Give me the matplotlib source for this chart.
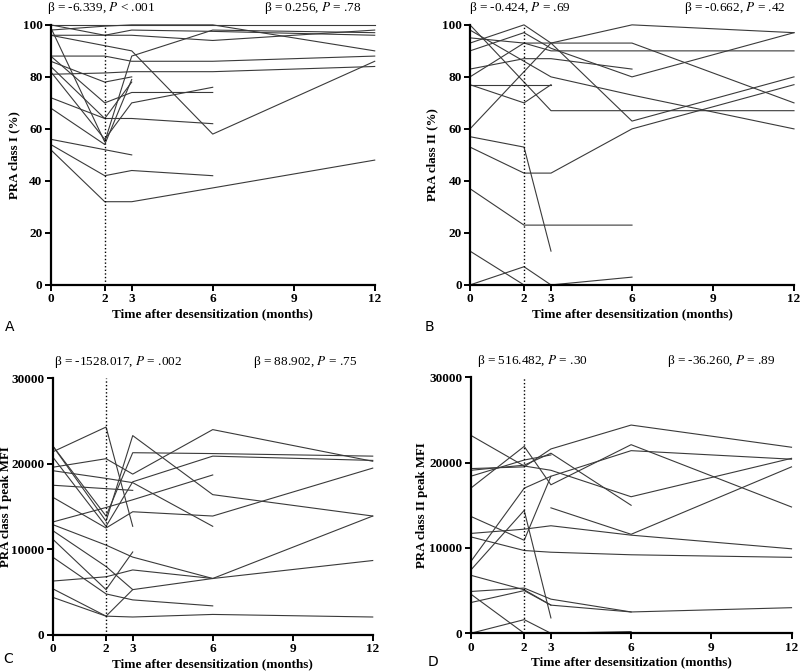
import numpy as np
import matplotlib
matplotlib.use('Agg')
import matplotlib.pyplot as plt

plt.rcParams['font.family'] = ['Liberation Serif', 'DejaVu Serif']
plt.rcParams['mathtext.fontset'] = 'stix'

nan = np.nan
months = [0, 2, 3, 6, 12]
x_ticks = [0, 2, 3, 6, 9, 12]

# panel A: PRA class I (%)
pra_class1 = [
    [100, 100, 100, 100, 100],
    [98, 99.5, 100, 100, 90],
    [100, 96, 98, 97.5, 96],
    [96, 96, 96, 94, 98],
    [96, 92, 90, 58, 86],
    [99, 55, 88, 98, 97],
    [88, 88, 86, 86, 88],
    [81, 81.5, 82, 82, 84],
    [86, 78, 80, nan, nan],
    [88, 70, 74, 74, nan],
    [84, 64, 78, nan, nan],
    [82, 56, 70, 76, nan],
    [72, 64, 64, 62, nan],
    [68, 54, 79, nan, nan],
    [56, 52, 50, nan, nan],
    [54, 42, 44, 42, nan],
    [52, 32, 32, 37.3, 48],
]

# panel B: PRA class II (%)
pra_class2 = [
    [100, nan, 67, 67, 67],
    [98, nan, 80, 73, 60],
    [60, nan, 93, 100, 97],
    [93, 100, 93, 93, 70],
    [90, 97, 91, 80, 97],
    [95, 93, 90, 90, 90],
    [80, 93, 93, 63, 80],
    [83, 87, 87, 83, nan],
    [77, 77, 77, nan, nan],
    [77, 70, 77, nan, nan],
    [57, 53, 13, nan, nan],
    [53, 43, 43, 60, 77],
    [37, 23, nan, 23, nan],
    [13, 0, nan, nan, nan],
    [0, 7, 0, 3, nan],
]

# panel C: PRA class I peak MFI
mfi_class1 = [
    [21400, 24300, 12700, nan, nan],
    [22100, 13300, 23300, 16400, 13900],
    [19600, 20600, 18800, 24000, 20300],
    [22100, 13900, 21300, 21200, 20900],
    [20800, 12700, 17900, 20900, 20400],
    [19200, 18300, 17800, 12700, nan],
    [17500, 17100, 16900, nan, nan],
    [13200, 14900, 15800, 18700, nan],
    [16100, 12500, 14400, 13900, 19500],
    [12900, 10500, 9100, 6600, 13900],
    [12200, 8000, 5300, 6600, 8700],
    [6300, 6800, 7600, 6600, nan],
    [11200, 5300, 9700, nan, nan],
    [9100, 4800, 4100, 3400, nan],
    [5400, 2200, 5300, nan, nan],
    [4400, 2200, 2100, 2400, 2100],
]

# panel D: PRA class II peak MFI
mfi_class2 = [
    [23200, 19600, 19100, 16000, 20500],
    [19300, 19500, 21600, 24400, 21800],
    [19100, 19700, 21100, 15000, nan],
    [18400, 20300, 20900, nan, nan],
    [17000, 21900, 17400, 22100, 14800],
    [13700, 10900, 18400, nan, nan],
    [8400, 17000, 18400, 21400, 20400],
    [7400, 14400, 1800, nan, nan],
    [11700, 12200, 12600, 11500, 9900],
    [11300, 9700, 9500, 9200, 8900],
    [6800, 5100, 3300, 2500, 3000],
    [4900, 5300, 4000, 2500, nan],
    [3600, 5000, 3300, nan, nan],
    [4600, 0, nan, nan, nan],
    [0, 1600, 0, 200, nan],
    [nan, nan, 14700, 11600, 19500],
]

panels = [
    dict(data=pra_class1, ylabel='PRA class I (%)', ymax=100, ystep=20,
         letter='A', rect=[0.0634, 0.576, 0.405, 0.387],
         left=('β = -6.339, ', '< .001'), right=('β = 0.256, ', '= .78'),
         pos_l=-0.01, pos_r=0.96, ylab_x=-0.095, let_xy=(0.006, 0.503)),
    dict(data=pra_class2, ylabel='PRA class II (%)', ymax=100, ystep=20,
         letter='B', rect=[0.5875, 0.576, 0.405, 0.387],
         left=('β = -0.424, ', '= .69'), right=('β = -0.662, ', '= .42'),
         pos_l=-0.003, pos_r=0.975, ylab_x=-0.099, let_xy=(0.531, 0.503)),
    dict(data=mfi_class1, ylabel='PRA class I peak MFI', ymax=30000, ystep=10000,
         letter='C', rect=[0.0659, 0.0551, 0.400, 0.382],
         left=('β = -1528.017, ', '= .002'), right=('β = 88.902, ', '= .75'),
         pos_l=0.004, pos_r=0.95, ylab_x=-0.127, let_xy=(0.004, 0.009)),
    dict(data=mfi_class2, ylabel='PRA class II peak MFI', ymax=30000, ystep=10000,
         letter='D', rect=[0.5884, 0.0576, 0.401, 0.381],
         left=('β = 516.482, ', '= .30'), right=('β = -36.260, ', '= .89'),
         pos_l=0.02, pos_r=0.95, ylab_x=-0.133, let_xy=(0.535, 0.005)),
]

fig = plt.figure(figsize=(8, 6.72), dpi=100)

for p in panels:
    ax = fig.add_axes(p['rect'])
    x = np.array(months, dtype=float)
    for series in p['data']:
        y = np.array(series, dtype=float)
        ok = ~np.isnan(y)
        ax.plot(x[ok], y[ok], color='#3a3a3a', lw=0.8, clip_on=False)

    ax.axvline(2, color='black', lw=1.0, ls=(0, (1, 1.6)))

    ax.set_xlim(0, 12)
    ax.set_ylim(0, p['ymax'])
    ax.set_xticks(x_ticks)
    ax.set_yticks(np.arange(0, p['ymax'] + 1, p['ystep']))
    for side in ['top', 'right']:
        ax.spines[side].set_visible(False)
    for side in ['left', 'bottom']:
        ax.spines[side].set_linewidth(1.6)
    ax.tick_params(direction='out', length=4, width=1.4, labelsize=9.5, pad=2)
    for lab in ax.get_xticklabels() + ax.get_yticklabels():
        lab.set_fontweight('bold')

    ax.set_xlabel('Time after desensitization (months)', fontsize=9.5,
                  fontweight='bold', labelpad=2)
    ax.set_ylabel(p['ylabel'], fontsize=9.3, fontweight='bold')
    ax.yaxis.set_label_coords(p['ylab_x'], 0.5)

    top_y = 1.065
    ax.text(p['pos_l'], top_y, p['left'][0] + r'$\mathit{P}$ ' + p['left'][1],
            transform=ax.transAxes, ha='left', va='center', fontsize=9.5)
    ax.text(p['pos_r'], top_y, p['right'][0] + r'$\mathit{P}$ ' + p['right'][1],
            transform=ax.transAxes, ha='right', va='center', fontsize=9.5)

    fig.text(p['let_xy'][0], p['let_xy'][1], p['letter'], fontsize=10,
             family='DejaVu Sans', ha='left', va='bottom')

fig.savefig('out.png', dpi=100)
